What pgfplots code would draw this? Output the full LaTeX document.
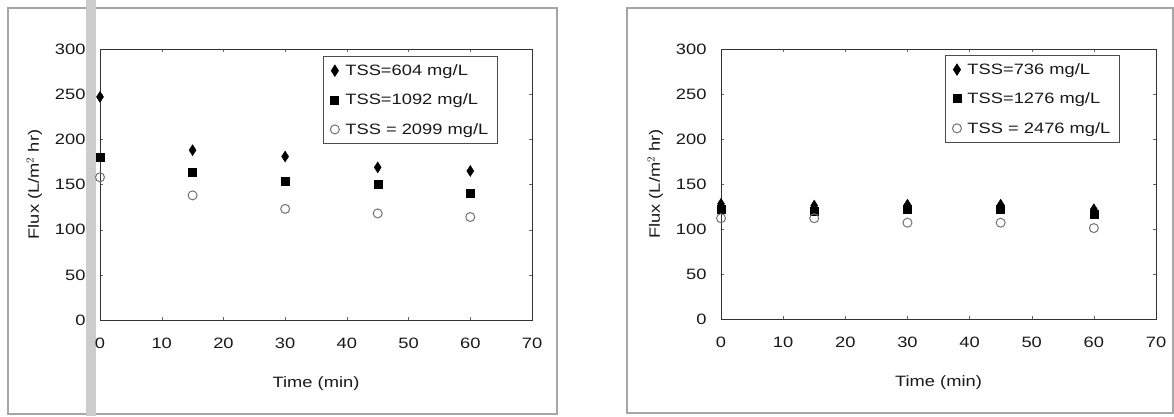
\documentclass[border=0pt]{standalone}
\usepackage{pgfplots}
\pgfplotsset{compat=1.18}
\usepackage{fontspec}
\setmainfont[FakeStretch=1.22]{Liberation Sans}
\begin{document}
\begin{tikzpicture}[x=1pt,y=1pt]
\fill[white] (0,0) rectangle (1174,416);
% scan frames
\draw[gray!70, line width=1.5pt] (8,2) rectangle (557,408);
\draw[gray!70, line width=1.5pt] (627,3) rectangle (1173,408);
\fill[gray!40] (86,0) rectangle (96,416);
\pgfplotsset{
  fluxax/.style={
    scale only axis,
    anchor=south west,
    xmin=0, xmax=70, ymin=0, ymax=300,
    xtick={0,10,...,70}, ytick={0,50,...,300},
    tick align=inside,
    major tick length=3pt,
    axis line style={black!80, line width=0.9pt},
    tick style={black!60},
    /pgf/number format/assume math mode=true,
    ticklabel style={font=\fontsize{15}{18}\selectfont, text=black!90},
    xticklabel style={yshift=-14pt},
    yticklabel style={xshift=-11pt},
    label style={font=\fontsize{15}{18}\selectfont, text=black!90},
    xlabel={Time (min)},
    ylabel={Flux (L/m$^{2}$ hr)},
    xlabel style={yshift=-22pt},
    ylabel style={yshift=6pt},
    legend cell align=left,
    legend style={font=\fontsize{15}{18}\selectfont, draw=black!70, line width=0.9pt,
      row sep=13pt, column sep=4pt, inner xsep=7pt, inner ysep=6pt, text=black!90},
  },
  d1/.style={only marks, mark=diamond*, mark size=5.5pt, mark options={fill=black, draw=black, xscale=0.85}},
  d2/.style={only marks, mark=square*, mark size=4pt, mark options={fill=black, draw=black}},
  d3/.style={only marks, mark=o, mark size=4.5pt, mark options={draw=black!55, line width=1pt}},
}
\begin{axis}[fluxax, at={(100pt,96pt)}, width=432pt, height=271pt,
  legend style={at={(0.516,0.974)}, anchor=north west}]
\addplot[d1] coordinates {(0,247) (15,188) (30,181) (45,169) (60,165)};
\addlegendentry{TSS=604 mg/L}
\addplot[d2] coordinates {(0,180) (15,164) (30,154) (45,150) (60,140)};
\addlegendentry{TSS=1092 mg/L}
\addplot[d3] coordinates {(0,158) (15,138) (30,123) (45,118) (60,114)};
\addlegendentry{TSS = 2099 mg/L}
\end{axis}
\begin{axis}[fluxax, at={(721pt,97pt)}, width=435pt, height=270pt,
  legend style={at={(0.515,0.978)}, anchor=north west}]
\addplot[d1] coordinates {(0,128) (15,126) (30,127) (45,127) (60,122)};
\addlegendentry{TSS=736 mg/L}
\addplot[d2] coordinates {(0,122) (15,120) (30,122) (45,122) (60,117)};
\addlegendentry{TSS=1276 mg/L}
\addplot[d3] coordinates {(0,112) (15,112) (30,107) (45,107) (60,101)};
\addlegendentry{TSS = 2476 mg/L}
\end{axis}
\end{tikzpicture}
\end{document}
